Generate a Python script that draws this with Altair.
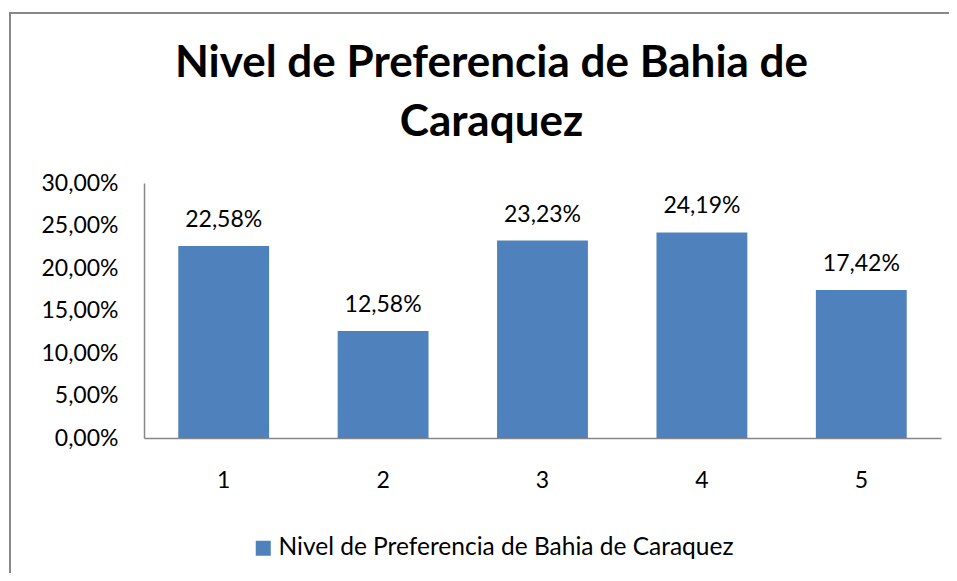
import altair as alt
import pandas as pd

categories = ["1", "2", "3", "4", "5"]
values = [0.2258, 0.1258, 0.2323, 0.2419, 0.1742]
series_name = "Nivel de Preferencia de Bahia de Caraquez"
title_lines = ["Nivel de Preferencia de Bahia de", "Caraquez"]
y_ticks = [0, 0.05, 0.10, 0.15, 0.20, 0.25, 0.30]

df = pd.DataFrame({"cat": categories, "value": values, "serie": [series_name] * len(categories)})

FONT = "Lato"
FS = 23

base = alt.Chart(df).transform_calculate(
    label="replace(format(datum.value, '.2%'), '.', ',')"
)

x_enc = alt.X(
    "cat:N",
    sort=categories,
    scale=alt.Scale(paddingInner=0.43, paddingOuter=0.215),
    axis=alt.Axis(
        title=None, labelAngle=0, ticks=False, labelPadding=31,
        domainColor="#868686", domainWidth=1.5, labelFont=FONT, labelFontSize=FS,
        labelColor="black",
    ),
)
y_enc = alt.Y(
    "value:Q",
    scale=alt.Scale(domain=[0, 0.3], nice=False),
    axis=alt.Axis(
        title=None, values=y_ticks, grid=False, ticks=False, labelPadding=26,
        labelExpr="replace(format(datum.value, '.2%'), '.', ',')",
        domainColor="#868686", domainWidth=1.5, labelFont=FONT, labelFontSize=FS,
        labelColor="black",
    ),
)

bars = base.mark_bar(color="#4F81BD").encode(
    x=x_enc,
    y=y_enc,
    color=alt.Color(
        "serie:N",
        scale=alt.Scale(range=["#4F81BD"]),
        legend=alt.Legend(
            title=None, orient="none", legendX=107, legendY=353,
            symbolType="square", symbolSize=225, symbolStrokeWidth=0,
            labelFont=FONT, labelFontSize=24.5, labelColor="black", labelOffset=3,
            labelLimit=800,
        ),
    ),
)

labels = base.mark_text(
    font=FONT, fontSize=FS, color="black", baseline="alphabetic", dy=-19
).encode(
    x=alt.X("cat:N", sort=categories),
    y="value:Q",
    text="label:N",
)

border_top = alt.Chart(df).mark_rule(color="#888888", strokeWidth=2).encode(
    x=alt.value(-134), x2=alt.value(820), y=alt.value(-170)
)
border_left = alt.Chart(df).mark_rule(color="#888888", strokeWidth=2).encode(
    x=alt.value(-134), y=alt.value(-171), y2=alt.value(400)
)

chart = alt.layer(bars, labels, border_top, border_left).properties(
    width=797,
    height=255,
    padding={"left": 136, "top": 175, "right": 8, "bottom": 135},
    autosize=alt.AutoSizeParams(type="none"),
    background="white",
    title=alt.TitleParams(
        text=title_lines, anchor="middle", dx=-51, font=FONT, fontSize=44,
        fontWeight="bold", lineHeight=59, color="black", offset=-178,
        baseline="bottom",
    ),
).configure_view(stroke=None)

chart.save("out.html", embed_options={"renderer": "svg", "actions": False})
